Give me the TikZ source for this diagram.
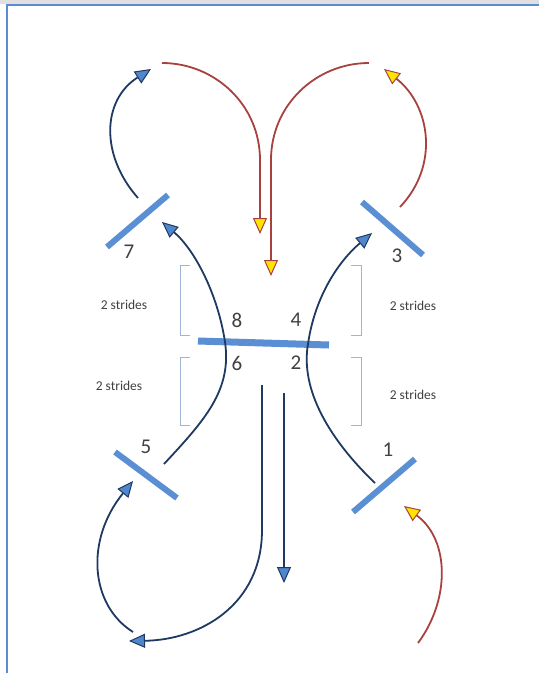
\documentclass[tikz,border=0pt]{standalone}
\usepackage{fontspec}
\setmainfont{Carlito}
\usetikzlibrary{arrows.meta}
\definecolor{navy}{HTML}{1F3A62}
\definecolor{rred}{HTML}{A8423F}
\definecolor{pole}{HTML}{5B8FD4}
\definecolor{brk}{HTML}{9FB4D6}
\definecolor{txt}{HTML}{404040}
\definecolor{frame}{HTML}{5B8BD0}
\definecolor{arrblue}{HTML}{4F86CC}
\definecolor{arryel}{HTML}{FFE400}
\tikzset{
  polebar/.style={line width=6pt, draw=pole},
  navyline/.style={draw=navy, line width=1.8pt},
  redline/.style={draw=rred, line width=1.8pt},
  bluetip/.style={-{Triangle[length=16pt,width=14pt,fill=arrblue,line width=1pt]}},
  yeltip/.style={-{Triangle[length=16pt,width=14pt,fill=arryel,line width=1pt]}},
  numlbl/.style={text=txt, font=\fontsize{21}{21}\selectfont, inner sep=0pt},
  strlbl/.style={text=txt, font=\fontsize{13.5}{13.5}\selectfont, inner sep=0pt},
  bracket/.style={draw=brk, line width=0.8pt}
}
\begin{document}
\begin{tikzpicture}[x=1pt,y=-1pt]
\useasboundingbox (0,0) rectangle (539,673);
\fill[white] (0,0) rectangle (539,673);
\fill[black!12] (0,0) rectangle (539,3.5);
\draw[frame, line width=2pt] (7,673) -- (7,5) -- (539,5);

% poles
\coordinate (p7a) at (107,247); \coordinate (p7b) at (168,195);
\coordinate (p3a) at (362,202); \coordinate (p3b) at (423,255);
\coordinate (pca) at (198,341); \coordinate (pcb) at (329,345);
\coordinate (p5a) at (115,452); \coordinate (p5b) at (177,498);
\coordinate (p1a) at (353,512); \coordinate (p1b) at (415,459);
\draw[polebar] (p7a) -- (p7b);
\draw[polebar] (p3a) -- (p3b);
\draw[polebar, line width=7pt] (pca) -- (pcb);
\draw[polebar] (p5a) -- (p5b);
\draw[polebar] (p1a) -- (p1b);

% labels
\node[numlbl] (n7) at (129,252) {7};
\node[numlbl] (n3) at (397,256) {3};
\node[numlbl] (n8) at (237,320) {8};
\node[numlbl] (n4) at (296,320) {4};
\node[numlbl] (n6) at (237,363) {6};
\node[numlbl] (n2) at (296,363) {2};
\node[numlbl] (n5) at (146,447) {5};
\node[numlbl] (n1) at (388,450) {1};

\node[strlbl] (s1) at (124,305) {2 strides};
\node[strlbl] (s2) at (413,306) {2 strides};
\node[strlbl] (s3) at (119,386) {2 strides};
\node[strlbl] (s4) at (413,395) {2 strides};

% brackets
\draw[bracket] (190,265) -- (180,265) -- (180,335) -- (190,335);
\draw[bracket] (190,357) -- (180,357) -- (180,425) -- (190,425);
\draw[bracket] (351,265) -- (361,265) -- (361,335) -- (351,335);
\draw[bracket] (351,357) -- (361,357) -- (361,425) -- (351,425);

% coordinates of path ends
\coordinate (a1s) at (375,483);
\coordinate (a1m) at (308,344);
\coordinate (a1e) at (372,233);
\coordinate (a2s) at (164,464);
\coordinate (a2m) at (225,342);
\coordinate (a2e) at (162,222);
\coordinate (a3s) at (138,198);
\coordinate (a3e) at (151,69);
\coordinate (r1s) at (162,63);
\coordinate (r1m) at (260,160);
\coordinate (r1e) at (260,234);
\coordinate (r2s) at (369,63);
\coordinate (r2m) at (271,160);
\coordinate (r2e) at (271,276);
\coordinate (r3s) at (400,207);
\coordinate (r3e) at (384,69);
\coordinate (b1s) at (262,385);
\coordinate (b1m) at (262,530);
\coordinate (b1e) at (129,641);
\coordinate (b2s) at (284,393);
\coordinate (b2e) at (284,583);
\coordinate (b3s) at (133,632);
\coordinate (b3e) at (133,481);
\coordinate (r4s) at (418,643);
\coordinate (r4e) at (404,506);

% navy curves
\draw[navyline, bluetip] (a1s) .. controls (330,440) and (300,390) .. (a1m) .. controls (315,295) and (340,260) .. (a1e);
\draw[navyline, bluetip] (a2s) .. controls (205,420) and (232,390) .. (a2m) .. controls (218,295) and (195,250) .. (a2e);
\draw[navyline, bluetip] (a3s) .. controls (100,155) and (102,100) .. (a3e);
\draw[navyline, bluetip] (b1s) -- (b1m) .. controls (262,605) and (200,640) .. (b1e);
\draw[navyline, bluetip] (b2s) -- (b2e);
\draw[navyline, bluetip] (b3s) .. controls (90,605) and (85,540) .. (b3e);

% red curves
\draw[redline, yeltip] (r1s) .. controls (215,63) and (260,105) .. (r1m) -- (r1e);
\draw[redline, yeltip] (r2s) .. controls (316,63) and (271,105) .. (r2m) -- (r2e);
\draw[redline, yeltip] (r3s) .. controls (440,165) and (430,105) .. (r3e);
\draw[redline, yeltip] (r4s) .. controls (450,600) and (450,540) .. (r4e);
\end{tikzpicture}
\end{document}
